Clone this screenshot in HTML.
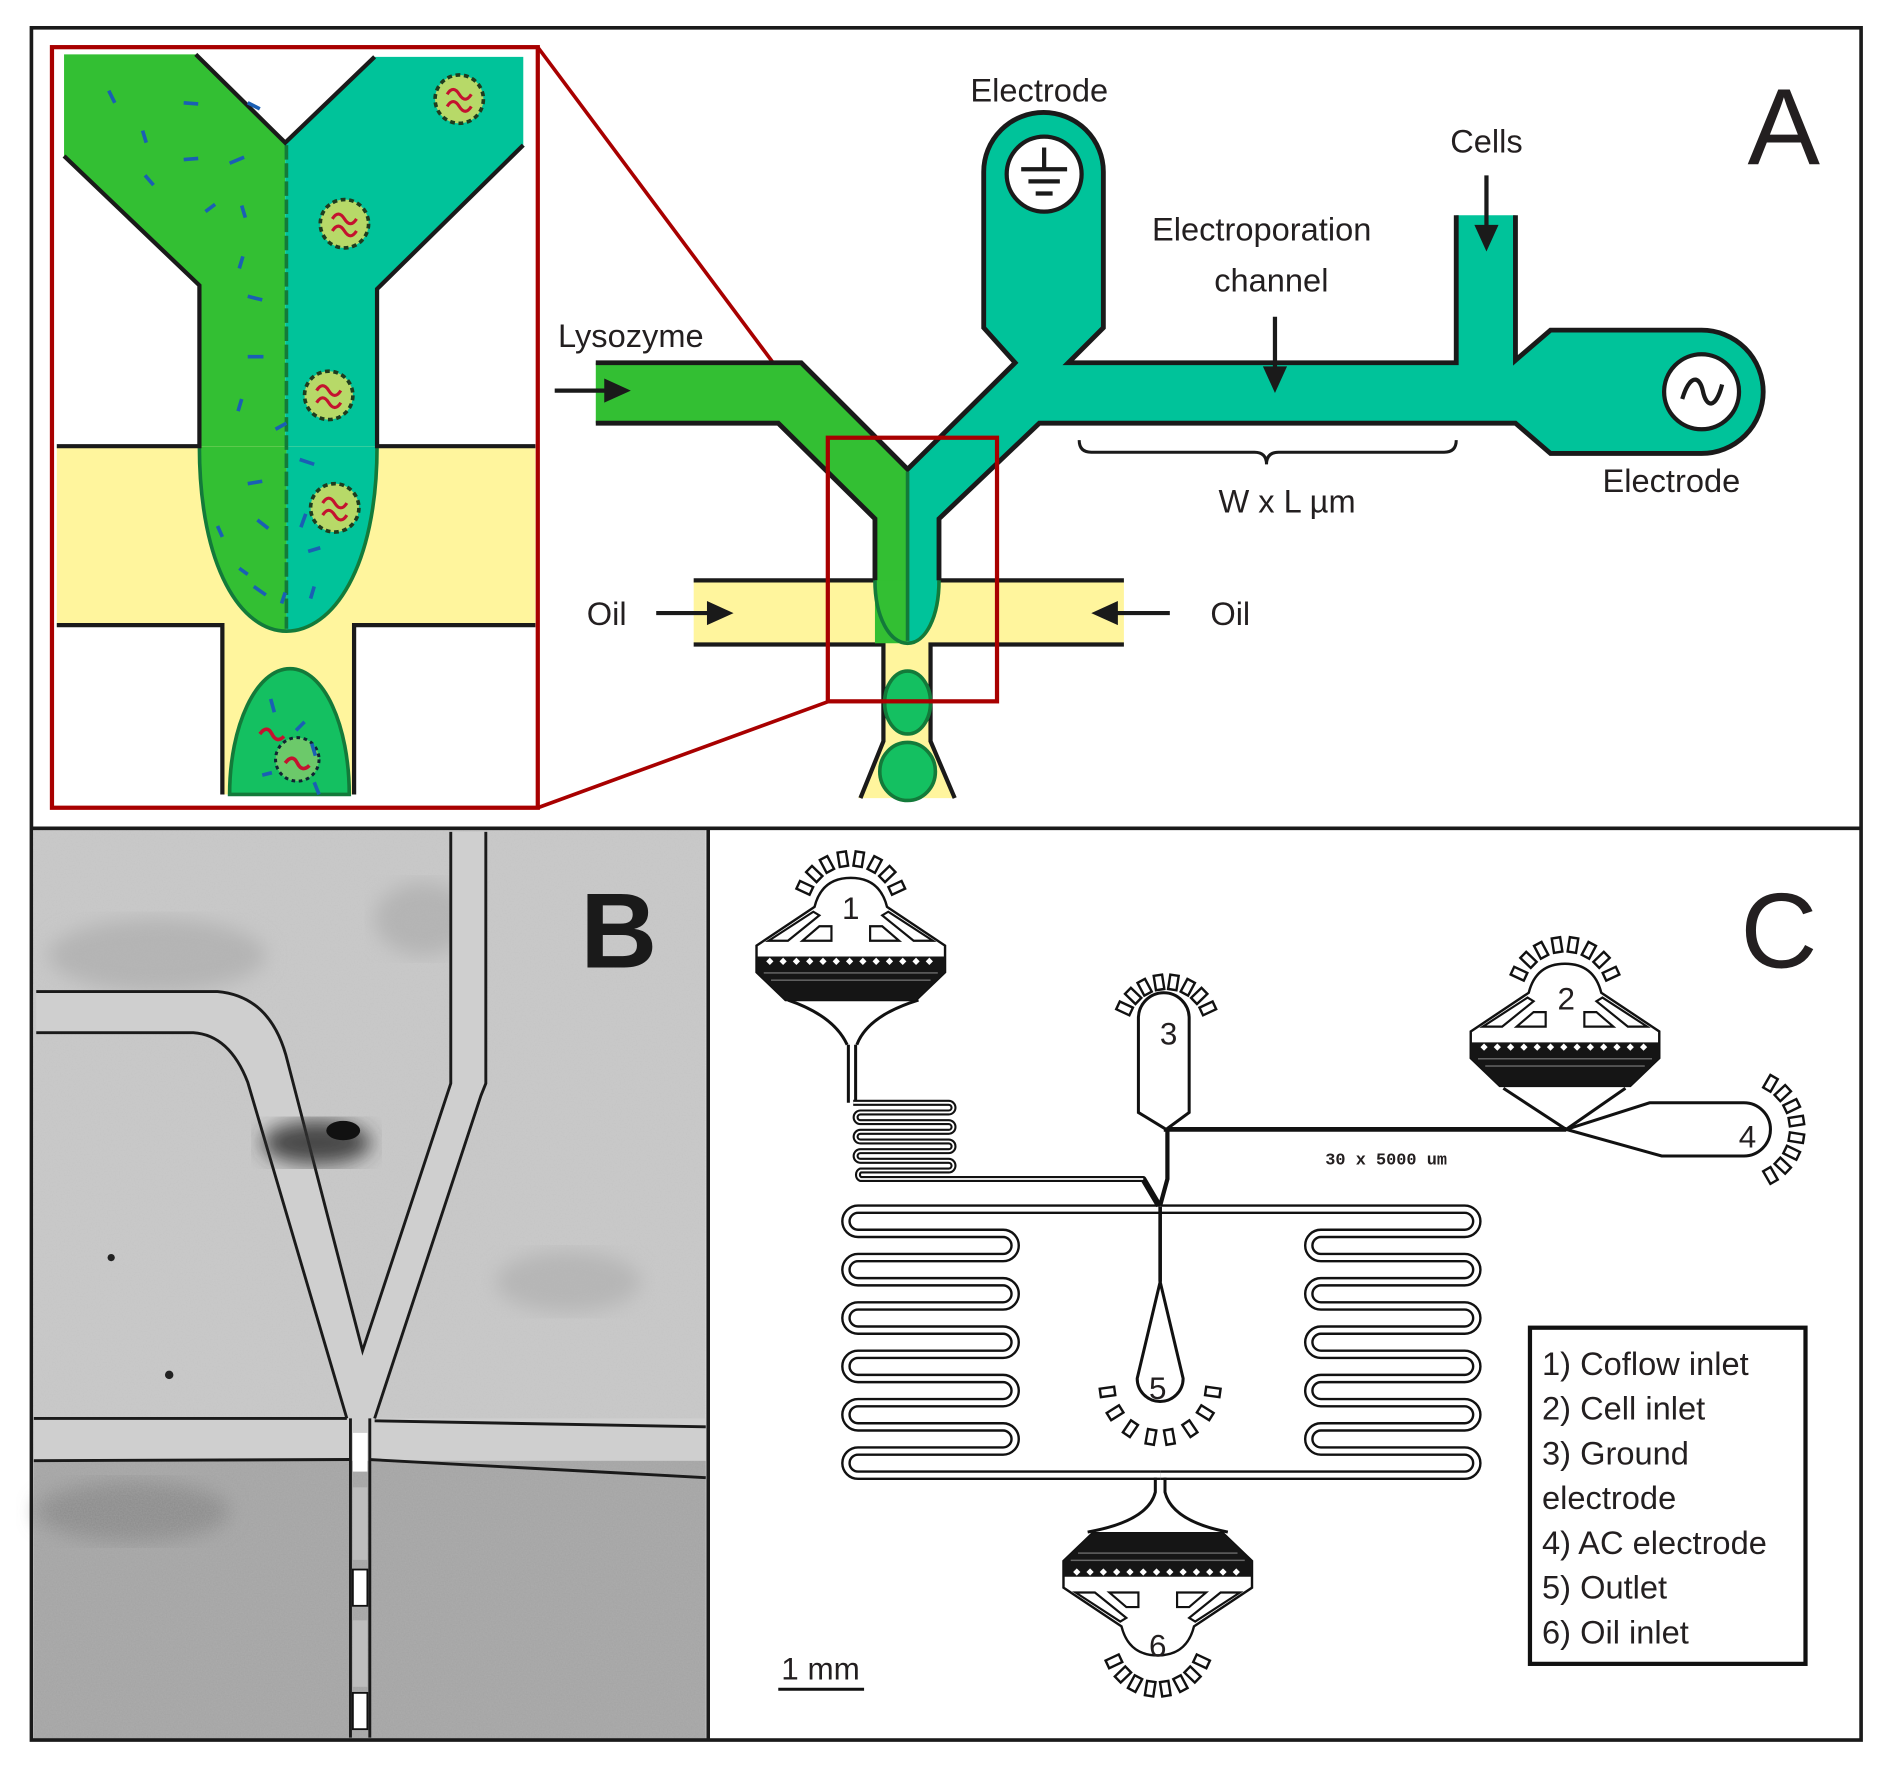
<!DOCTYPE html>
<html><head><meta charset="utf-8"><style>
html,body{margin:0;padding:0;background:#fff;}
svg{display:block;}
text{font-family:"Liberation Sans",sans-serif;fill:#231f20;}
</style></head><body>
<svg width="1895" height="1768" viewBox="0 0 1895 1768" xmlns="http://www.w3.org/2000/svg">
<defs>
<filter id="noise" x="0" y="0" width="100%" height="100%">
<feTurbulence type="fractalNoise" baseFrequency="0.9" numOctaves="1" seed="3" result="n"/>
<feColorMatrix type="matrix" values="0 0 0 0 0.5  0 0 0 0 0.5  0 0 0 0 0.5  0 0 0 0.9 -0.25"/>
</filter>
<filter id="blur"><feGaussianBlur stdDeviation="8"/></filter>
<g id="cren">
<rect x="-3.5" y="-6" width="7" height="12" fill="#fff" stroke="#111" stroke-width="2"/>
</g>
<g id="inlet">
<path d="M-78,56 L-30,24 Q-24,0 0,0 Q24,0 30,24 L78,56 L78,78 L54,101 L-54,101 L-78,78 Z" fill="#fff" stroke="#111" stroke-width="2"/>
<path d="M-78,65 L78,65 L78,78 L54,101 L-54,101 L-78,78 Z" fill="#151515"/>
<g fill="#fff">
<path d="M-70,69 l3,-3 l3,3 l-3,3z M-59,69 l3,-3 l3,3 l-3,3z M-48,69 l3,-3 l3,3 l-3,3z M-37,69 l3,-3 l3,3 l-3,3z M-26,69 l3,-3 l3,3 l-3,3z M-15,69 l3,-3 l3,3 l-3,3z M-4,69 l3,-3 l3,3 l-3,3z M7,69 l3,-3 l3,3 l-3,3z M18,69 l3,-3 l3,3 l-3,3z M29,69 l3,-3 l3,3 l-3,3z M40,69 l3,-3 l3,3 l-3,3z M51,69 l3,-3 l3,3 l-3,3z M62,69 l3,-3 l3,3 l-3,3z"/>
<g opacity="0.35"><rect x="-72" y="78" width="144" height="1.2"/><rect x="-66" y="84" width="132" height="1.2"/></g>
</g>
<path d="M-68,52 L-52,52 L-26,31 L-31,28 Z M-40,52 L-16,52 L-16,40 L-26,40 Z M40,52 L16,52 L16,40 L26,40 Z M68,52 L52,52 L26,31 L31,28 Z" fill="#fff" stroke="#111" stroke-width="1.8"/>
</g>
</defs>
<rect width="1895" height="1768" fill="#fff"/>
<g transform="scale(1.2085 1.2092)">

<!-- ================= PANEL B ================= -->
<rect x="28" y="686" width="556" height="752" fill="#c9c9c9"/>
<rect x="28" y="1208" width="556" height="230" fill="#a6a6a6"/>
<ellipse cx="130" cy="790" rx="90" ry="30" fill="#b4b4b4" filter="url(#blur)"/>
<ellipse cx="350" cy="760" rx="40" ry="30" fill="#b4b4b4" filter="url(#blur)"/>
<ellipse cx="470" cy="1060" rx="60" ry="25" fill="#b6b6b6" filter="url(#blur)"/>
<ellipse cx="110" cy="1250" rx="80" ry="25" fill="#8f8f8f" filter="url(#blur)"/>
<rect x="28" y="686" width="556" height="752" filter="url(#noise)" opacity="0.5"/>
<path d="M30,854 L160,854 Q190,856 205,895 L287,1173 L28,1173 L28,1208 L584,1208 L584,1173 L310,1173 L402,900 L402,688 L373,688 L373,896 L300,1117 L238,878 Q225,824 180,820 L30,820 Z" fill="#cfcfcf"/>
<g fill="none" stroke="#1a1a1a" stroke-width="2.4">
<path d="M30,820 L180,820 Q225,824 238,878 L300,1117 L373,896 L373,688"/>
<path d="M30,854 L160,854 Q190,856 205,895 L287,1173"/>
<path d="M310,1173 L398,906 L402,896 L402,688"/>
<path d="M28,1173 L287,1173 M310,1175 L584,1180"/>
<path d="M28,1208 L290,1207 M305,1207 L584,1222"/>
<path d="M290,1173 L290,1437 M306,1173 L306,1437"/>
</g>
<rect x="292" y="1185" width="12" height="32" fill="#fff"/>
<rect x="292" y="1298" width="12" height="30" fill="#fff" stroke="#111" stroke-width="1.5"/>
<rect x="292" y="1400" width="12" height="30" fill="#fff" stroke="#111" stroke-width="1.5"/>
<rect x="292" y="1230" width="12" height="60" fill="#bdbdbd"/>
<rect x="292" y="1340" width="12" height="55" fill="#bdbdbd"/>
<ellipse cx="262" cy="945" rx="45" ry="18" fill="#333" filter="url(#blur)" opacity="0.85"/>
<ellipse cx="284" cy="935" rx="14" ry="8" fill="#111"/>
<circle cx="92" cy="1040" r="3" fill="#222"/>
<circle cx="140" cy="1137" r="3.5" fill="#222"/>
<text x="512" y="800" font-size="88" text-anchor="middle" font-weight="bold" style="fill:#1a1a1a">B</text>

<!-- ================= PANEL A ================= -->
<polygon points="53,45 162,45 236,118 236,369 165,369 165,236 53,129" fill="#33bf33"/>
<polygon points="236,118 310,47 433,47 433,120 312,239 312,369 236,369" fill="#00c39a"/>
<rect x="47" y="369" width="396" height="149" fill="#fff59d"/>
<rect x="184" y="517" width="109" height="140" fill="#fff59d"/>
<path d="M165,369 C165,470 200,522 237,522 L237,369 Z" fill="#33bf33"/>
<path d="M312,369 C312,470 275,522 237,522 L237,369 Z" fill="#00c39a"/>
<path d="M165,369 C165,470 200,522 237,522 C275,522 312,470 312,369" fill="none" stroke="#137a3a" stroke-width="3"/>
<line x1="237" y1="120" x2="237" y2="520" stroke="#137a3a" stroke-width="3" stroke-dasharray="12,3"/>
<g fill="none" stroke="#1a1a1a" stroke-width="3.5">
<path d="M53,129 L165,236 L165,369 L47,369"/>
<path d="M162,45 L236,118 L310,47"/>
<path d="M433,120 L312,239 L312,369 L443,369"/>
<path d="M47,517 L184,517 L184,657"/>
<path d="M443,517 L293,517 L293,657"/>
</g>
<path d="M190,657 C190,600 212,553 240,553 C268,553 289,600 289,657 Z" fill="#14c061" stroke="#137a3a" stroke-width="3"/>
<circle cx="246" cy="628" r="18" fill="#6cc96a" stroke="#123" stroke-width="2.5" stroke-dasharray="3,3"/>
<path d="M215,607 q6,-8 10,0 t10,2" fill="none" stroke="#c4122f" stroke-width="3"/>
<path d="M236,631 q6,-8 10,0 t10,2" fill="none" stroke="#c4122f" stroke-width="3"/>
<g stroke="#1a5fb4" stroke-width="3" fill="none">
<path d="M90,75 l5,10 M152,85 l12,1 M118,108 l3,10 M152,132 l12,-1 M120,145 l7,8 M190,135 l12,-5 M205,85 l10,5 M170,175 l8,-6 M200,170 l3,10 M201,212 l-3,10 M205,245 l12,3 M205,295 l13,0 M200,330 l-3,10 M228,355 l9,-5 M205,400 l12,-2 M180,435 l4,9 M213,430 l9,7 M210,485 l10,7 M236,490 l-3,9 M248,380 l12,4 M253,425 l-4,11 M255,456 l10,-3 M260,485 l-3,10 M198,470 l7,5 M224,578 l3,11 M245,604 l7,-7 M258,615 l3,10 M260,647 l4,10 M217,641 l8,-2"/>
</g>
<g>
<g transform="translate(380,82)"><circle r="20" fill="#b7d968" stroke="#1e3b1e" stroke-width="3" stroke-dasharray="4,3"/><path d="M-10,-4 q5,-8 10,0 t10,0 M-10,6 q5,-8 10,0 t10,0" fill="none" stroke="#c4122f" stroke-width="2.6"/></g>
<g transform="translate(285,185)"><circle r="20" fill="#b7d968" stroke="#1e3b1e" stroke-width="3" stroke-dasharray="4,3"/><path d="M-10,-4 q5,-8 10,0 t10,0 M-10,6 q5,-8 10,0 t10,0" fill="none" stroke="#c4122f" stroke-width="2.6"/></g>
<g transform="translate(272,327)"><circle r="20" fill="#b7d968" stroke="#1e3b1e" stroke-width="3" stroke-dasharray="4,3"/><path d="M-10,-4 q5,-8 10,0 t10,0 M-10,6 q5,-8 10,0 t10,0" fill="none" stroke="#c4122f" stroke-width="2.6"/></g>
<g transform="translate(277,420)"><circle r="20" fill="#b7d968" stroke="#1e3b1e" stroke-width="3" stroke-dasharray="4,3"/><path d="M-10,-4 q5,-8 10,0 t10,0 M-10,6 q5,-8 10,0 t10,0" fill="none" stroke="#c4122f" stroke-width="2.6"/></g>
</g>
<rect x="43" y="39" width="402" height="629" fill="none" stroke="#a80000" stroke-width="3.5"/>
<line x1="445" y1="39" x2="686" y2="362" stroke="#a80000" stroke-width="3"/>
<line x1="445" y1="668" x2="686" y2="580" stroke="#a80000" stroke-width="3"/>

<rect x="574" y="480" width="356" height="53" fill="#fff59d"/>
<path d="M731,533 L770,533 L770,613 L790,660 L710,660 L731,613 Z" fill="#fff59d"/>
<g fill="none" stroke="#1a1a1a" stroke-width="3.5">
<path d="M574,480 L724,480 M777,480 L930,480"/>
<path d="M574,533 L731,533 L731,613 L712,660 M930,533 L770,533 L770,613 L790,660"/>
</g>
<ellipse cx="751" cy="581" rx="19" ry="26" fill="#14c061" stroke="#137a3a" stroke-width="3"/>
<ellipse cx="751" cy="638" rx="23" ry="24" fill="#14c061" stroke="#137a3a" stroke-width="3"/>
<path d="M493,300 L663,300 L751,388 L751,532 L724,532 L724,429 L644,350 L493,350 Z" fill="#33bf33"/>
<path d="M751,388 L840,300 L814,271 L814,142 A49.5,49 0 0 1 913,142 L913,271 L884,300 L1205,300 L1205,178 L1254,178 L1254,298 L1283,273 L1408,273 A51,51 0 0 1 1408,375 L1283,375 L1254,350 L860,350 L777,429 L777,485 C777,510 766,532 751,532 Z" fill="#00c39a"/>
<g fill="none" stroke="#1a1a1a" stroke-width="4" stroke-linejoin="miter">
<path d="M493,300 L663,300 L751,388 L840,300 L814,271 L814,142 A49.5,49 0 0 1 913,142 L913,271 L884,300 L1205,300 L1205,178"/>
<path d="M1254,178 L1254,298 L1283,273 L1408,273 A51,51 0 0 1 1408,375 L1283,375 L1254,350 L860,350 L777,429 L777,480"/>
<path d="M493,350 L644,350 L724,429 L724,480"/>
</g>
<path d="M724,480 C724,510 736,532 751,532 L751,480 Z" fill="#33bf33"/>
<path d="M724,480 C724,510 736,532 751,532 C766,532 777,510 777,480" fill="none" stroke="#137a3a" stroke-width="3"/>
<line x1="751" y1="390" x2="751" y2="530" stroke="#137a3a" stroke-width="3"/>
<rect x="685" y="362" width="140" height="218" fill="none" stroke="#a80000" stroke-width="3.5"/>
<circle cx="864" cy="144" r="31" fill="#fff" stroke="#1a1a1a" stroke-width="3.5"/>
<g stroke="#1a1a1a" stroke-width="3.5"><line x1="864" y1="122" x2="864" y2="140"/><line x1="845" y1="140" x2="883" y2="140"/><line x1="851" y1="150" x2="877" y2="150"/><line x1="857" y1="160" x2="871" y2="160"/></g>
<circle cx="1408" cy="324" r="31" fill="#fff" stroke="#1a1a1a" stroke-width="3.5"/>
<path d="M1392,330 C1398,310 1406,310 1409,323 C1412,338 1420,338 1425,318" fill="none" stroke="#1a1a1a" stroke-width="3.5"/>
<g stroke="#1a1a1a" stroke-width="3.5">
<line x1="459" y1="323" x2="505" y2="323"/><line x1="543" y1="507" x2="590" y2="507"/><line x1="968" y1="507" x2="920" y2="507"/>
<line x1="1055" y1="262" x2="1055" y2="308"/><line x1="1230" y1="145" x2="1230" y2="192"/>
</g>
<g fill="#1a1a1a">
<polygon points="522,323 500,313 500,333"/><polygon points="607,507 585,497 585,517"/><polygon points="903,507 925,497 925,517"/>
<polygon points="1055,325 1045,303 1065,303"/><polygon points="1230,208 1220,186 1240,186"/>
</g>
<path d="M893,364 Q893,374 903,374 L1038,374 Q1048,374 1048,384 Q1048,374 1058,374 L1195,374 Q1205,374 1205,364" fill="none" stroke="#1a1a1a" stroke-width="2.5"/>
<g font-size="27">
<text x="860" y="84" text-anchor="middle">Electrode</text>
<text x="1230" y="126" text-anchor="middle">Cells</text>
<text x="1044" y="199" text-anchor="middle">Electroporation</text>
<text x="1052" y="241" text-anchor="middle">channel</text>
<text x="522" y="287" text-anchor="middle">Lysozyme</text>
<text x="1065" y="424" text-anchor="middle">W x L µm</text>
<text x="1383" y="407" text-anchor="middle">Electrode</text>
<text x="502" y="517" text-anchor="middle">Oil</text>
<text x="1018" y="517" text-anchor="middle">Oil</text>
</g>
<text x="1476" y="136" font-size="90" text-anchor="middle">A</text>

<!-- ================= PANEL C ================= -->
<g fill="none" stroke-linejoin="round">
<path d="M960,1000 L710,1000 A10,10 0 0 0 710,1020 L830,1020 A10,10 0 0 1 830,1040 L710,1040 A10,10 0 0 0 710,1060 L830,1060 A10,10 0 0 1 830,1080 L710,1080 A10,10 0 0 0 710,1100 L830,1100 A10,10 0 0 1 830,1120 L710,1120 A10,10 0 0 0 710,1140 L830,1140 A10,10 0 0 1 830,1160 L710,1160 A10,10 0 0 0 710,1180 L830,1180 A10,10 0 0 1 830,1200 L710,1200 A10,10 0 0 0 710,1220 L960,1220" stroke="#111" stroke-width="8"/>
<path d="M960,1000 L1212,1000 A10,10 0 0 1 1212,1020 L1093,1020 A10,10 0 0 0 1093,1040 L1212,1040 A10,10 0 0 1 1212,1060 L1093,1060 A10,10 0 0 0 1093,1080 L1212,1080 A10,10 0 0 1 1212,1100 L1093,1100 A10,10 0 0 0 1093,1120 L1212,1120 A10,10 0 0 1 1212,1140 L1093,1140 A10,10 0 0 0 1093,1160 L1212,1160 A10,10 0 0 1 1212,1180 L1093,1180 A10,10 0 0 0 1093,1200 L1212,1200 A10,10 0 0 1 1212,1220 L960,1220" stroke="#111" stroke-width="8"/>
<path d="M960,1000 L710,1000 A10,10 0 0 0 710,1020 L830,1020 A10,10 0 0 1 830,1040 L710,1040 A10,10 0 0 0 710,1060 L830,1060 A10,10 0 0 1 830,1080 L710,1080 A10,10 0 0 0 710,1100 L830,1100 A10,10 0 0 1 830,1120 L710,1120 A10,10 0 0 0 710,1140 L830,1140 A10,10 0 0 1 830,1160 L710,1160 A10,10 0 0 0 710,1180 L830,1180 A10,10 0 0 1 830,1200 L710,1200 A10,10 0 0 0 710,1220 L960,1220" stroke="#fff" stroke-width="4"/>
<path d="M960,1000 L1212,1000 A10,10 0 0 1 1212,1020 L1093,1020 A10,10 0 0 0 1093,1040 L1212,1040 A10,10 0 0 1 1212,1060 L1093,1060 A10,10 0 0 0 1093,1080 L1212,1080 A10,10 0 0 1 1212,1100 L1093,1100 A10,10 0 0 0 1093,1120 L1212,1120 A10,10 0 0 1 1212,1140 L1093,1140 A10,10 0 0 0 1093,1160 L1212,1160 A10,10 0 0 1 1212,1180 L1093,1180 A10,10 0 0 0 1093,1200 L1212,1200 A10,10 0 0 1 1212,1220 L960,1220" stroke="#fff" stroke-width="4"/>
<path d="M706,912 L785,912 A4,4 0 0 1 785,920 L712,920 A4,4 0 0 0 712,928 L785,928 A4,4 0 0 1 785,936 L712,936 A4,4 0 0 0 712,944 L785,944 A4,4 0 0 1 785,952 L712,952 A4,4 0 0 0 712,960 L785,960 A4,4 0 0 1 785,968 L712,968 A4,4 0 0 0 712,975 L946,975 L959,997" stroke="#111" stroke-width="5"/>
<path d="M706,912 L785,912 A4,4 0 0 1 785,920 L712,920 A4,4 0 0 0 712,928 L785,928 A4,4 0 0 1 785,936 L712,936 A4,4 0 0 0 712,944 L785,944 A4,4 0 0 1 785,952 L712,952 A4,4 0 0 0 712,960 L785,960 A4,4 0 0 1 785,968 L712,968 A4,4 0 0 0 712,975 L946,975" stroke="#fff" stroke-width="1.5"/>
</g>
<g fill="none" stroke="#111" stroke-width="2.5">
<path d="M963,934 L1296,934" stroke-width="4"/>
<path d="M966,934 L966,975 L960,997" stroke-width="3.5"/>
<path d="M960,998 L960,1060" stroke-width="3"/>
<path d="M702,864 L702,912 M708,864 L708,910"/>
<path d="M652,827 Q690,840 701,864 M760,827 Q718,840 709,864"/>
<path d="M942,920 L942,842 A21,21 0 0 1 984,842 L984,920 L965,934 Z" fill="#fff"/>
<path d="M1244,900 L1296,934 L1345,900"/>
<path d="M1296,934 L1365,912 L1443,912 A22,22 0 0 1 1443,956 L1375,956 L1296,934"/>
<path d="M960,1060 L941,1140 A19,19 0 1 0 979,1140 Z" fill="#fff"/>
<path d="M956,1222 L956,1234 Q950,1258 900,1267 M964,1222 L964,1234 Q970,1258 1016,1267"/>
</g>
<use href="#inlet" transform="translate(704,726)"/>
<use href="#inlet" transform="translate(1295,797)"/>
<use href="#inlet" transform="translate(958,1369) scale(1,-1)"/>
<g>
<use href="#cren" transform="translate(704,752) rotate(-65) translate(0,-42)"/>
<use href="#cren" transform="translate(704,752) rotate(-46) translate(0,-42)"/>
<use href="#cren" transform="translate(704,752) rotate(-28) translate(0,-42)"/>
<use href="#cren" transform="translate(704,752) rotate(-9) translate(0,-42)"/>
<use href="#cren" transform="translate(704,752) rotate(9) translate(0,-42)"/>
<use href="#cren" transform="translate(704,752) rotate(28) translate(0,-42)"/>
<use href="#cren" transform="translate(704,752) rotate(46) translate(0,-42)"/>
<use href="#cren" transform="translate(704,752) rotate(65) translate(0,-42)"/>
<use href="#cren" transform="translate(1295,823) rotate(-65) translate(0,-42)"/>
<use href="#cren" transform="translate(1295,823) rotate(-46) translate(0,-42)"/>
<use href="#cren" transform="translate(1295,823) rotate(-28) translate(0,-42)"/>
<use href="#cren" transform="translate(1295,823) rotate(-9) translate(0,-42)"/>
<use href="#cren" transform="translate(1295,823) rotate(9) translate(0,-42)"/>
<use href="#cren" transform="translate(1295,823) rotate(28) translate(0,-42)"/>
<use href="#cren" transform="translate(1295,823) rotate(46) translate(0,-42)"/>
<use href="#cren" transform="translate(1295,823) rotate(65) translate(0,-42)"/>
<use href="#cren" transform="translate(965,850) rotate(-65) translate(0,-38)"/>
<use href="#cren" transform="translate(965,850) rotate(-46) translate(0,-38)"/>
<use href="#cren" transform="translate(965,850) rotate(-28) translate(0,-38)"/>
<use href="#cren" transform="translate(965,850) rotate(-9) translate(0,-38)"/>
<use href="#cren" transform="translate(965,850) rotate(9) translate(0,-38)"/>
<use href="#cren" transform="translate(965,850) rotate(28) translate(0,-38)"/>
<use href="#cren" transform="translate(965,850) rotate(46) translate(0,-38)"/>
<use href="#cren" transform="translate(965,850) rotate(65) translate(0,-38)"/>
<use href="#cren" transform="translate(1443,934) rotate(30) translate(0,-44)"/>
<use href="#cren" transform="translate(1443,934) rotate(47) translate(0,-44)"/>
<use href="#cren" transform="translate(1443,934) rotate(64) translate(0,-44)"/>
<use href="#cren" transform="translate(1443,934) rotate(81) translate(0,-44)"/>
<use href="#cren" transform="translate(1443,934) rotate(99) translate(0,-44)"/>
<use href="#cren" transform="translate(1443,934) rotate(116) translate(0,-44)"/>
<use href="#cren" transform="translate(1443,934) rotate(133) translate(0,-44)"/>
<use href="#cren" transform="translate(1443,934) rotate(150) translate(0,-44)"/>
<use href="#cren" transform="translate(960,1145) rotate(98) translate(0,-44)"/>
<use href="#cren" transform="translate(960,1145) rotate(122) translate(0,-44)"/>
<use href="#cren" transform="translate(960,1145) rotate(146) translate(0,-44)"/>
<use href="#cren" transform="translate(960,1145) rotate(170) translate(0,-44)"/>
<use href="#cren" transform="translate(960,1145) rotate(190) translate(0,-44)"/>
<use href="#cren" transform="translate(960,1145) rotate(214) translate(0,-44)"/>
<use href="#cren" transform="translate(960,1145) rotate(238) translate(0,-44)"/>
<use href="#cren" transform="translate(960,1145) rotate(262) translate(0,-44)"/>
<use href="#cren" transform="translate(958,1357) rotate(115) translate(0,-40)"/>
<use href="#cren" transform="translate(958,1357) rotate(134) translate(0,-40)"/>
<use href="#cren" transform="translate(958,1357) rotate(152) translate(0,-40)"/>
<use href="#cren" transform="translate(958,1357) rotate(171) translate(0,-40)"/>
<use href="#cren" transform="translate(958,1357) rotate(189) translate(0,-40)"/>
<use href="#cren" transform="translate(958,1357) rotate(208) translate(0,-40)"/>
<use href="#cren" transform="translate(958,1357) rotate(226) translate(0,-40)"/>
<use href="#cren" transform="translate(958,1357) rotate(245) translate(0,-40)"/>
</g>
<g font-size="26" text-anchor="middle">
<text x="704" y="760">1</text>
<text x="1296" y="835">2</text>
<text x="967" y="864">3</text>
<text x="1446" y="949">4</text>
<text x="958" y="1157">5</text>
<text x="958" y="1370">6</text>
</g>
<text x="1147" y="963" font-size="14" font-weight="bold" text-anchor="middle" style="font-family:'Liberation Mono',monospace">30 x 5000 um</text>
<text x="679" y="1389" font-size="26" text-anchor="middle">1 mm</text>
<line x1="644" y1="1397" x2="715" y2="1397" stroke="#111" stroke-width="2.5"/>
<rect x="1266" y="1098" width="228" height="278" fill="none" stroke="#111" stroke-width="3.5"/>
<g font-size="27">
<text x="1276" y="1137">1) Coflow inlet</text>
<text x="1276" y="1174">2) Cell inlet</text>
<text x="1276" y="1211">3) Ground</text>
<text x="1276" y="1248">electrode</text>
<text x="1276" y="1285">4) AC electrode</text>
<text x="1276" y="1322">5) Outlet</text>
<text x="1276" y="1359">6) Oil inlet</text>
</g>
<text x="1472" y="800" font-size="88" text-anchor="middle">C</text>

<rect x="26" y="23" width="1514" height="1416" fill="none" stroke="#1a1a1a" stroke-width="3"/>
<line x1="26" y1="685" x2="1540" y2="685" stroke="#1a1a1a" stroke-width="3"/>
<line x1="586" y1="685" x2="586" y2="1439" stroke="#1a1a1a" stroke-width="3"/>
</g>
</svg>
</body></html>
